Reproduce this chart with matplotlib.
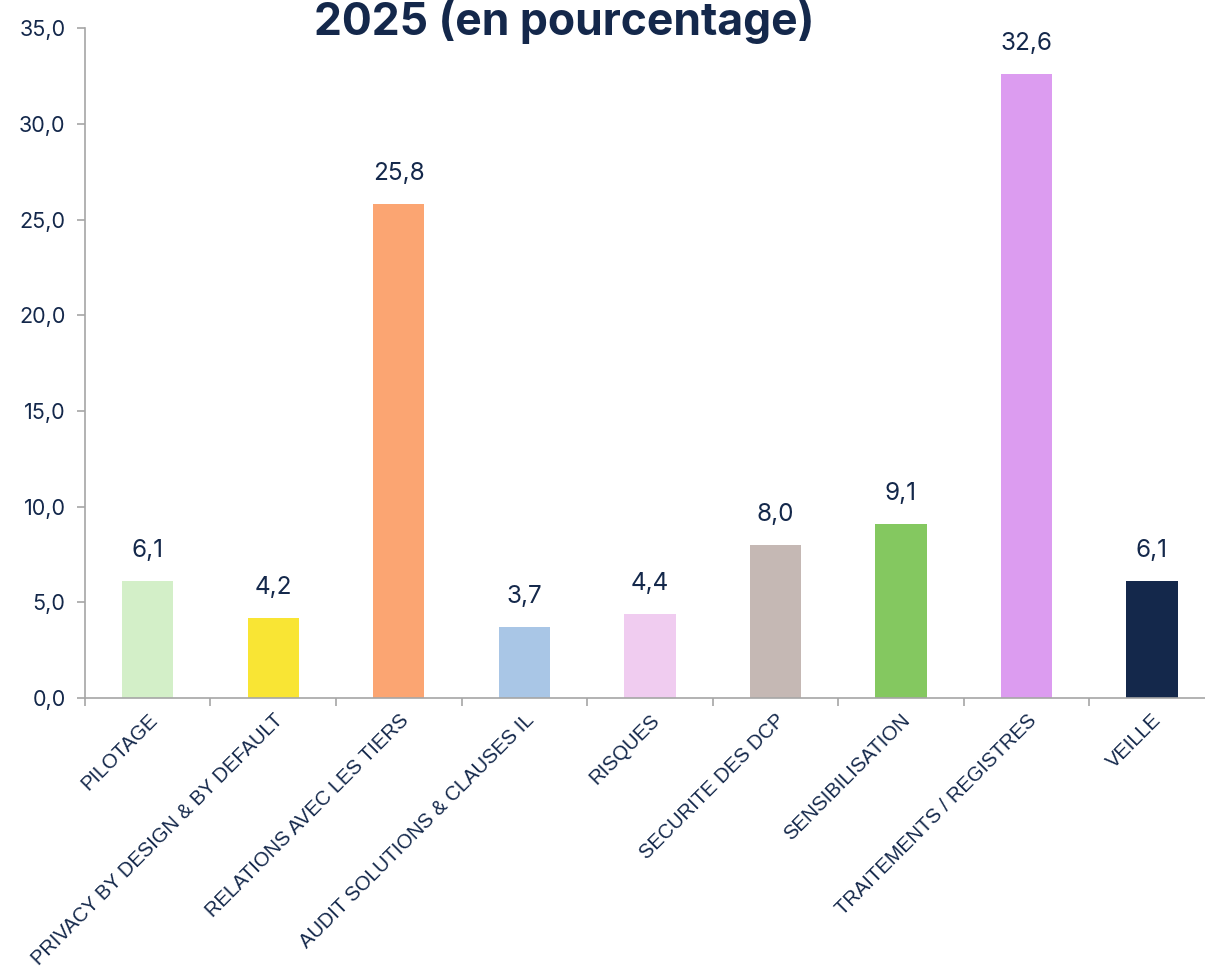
import numpy as np
import matplotlib
matplotlib.use("Agg")
import matplotlib.pyplot as plt
from matplotlib.ticker import FixedLocator, FuncFormatter

categories = ["PILOTAGE", "PRIVACY BY DESIGN & BY DEFAULT", "RELATIONS AVEC LES TIERS",
              "AUDIT SOLUTIONS & CLAUSES IL", "RISQUES", "SECURITE DES DCP",
              "SENSIBILISATION", "TRAITEMENTS / REGISTRES", "VEILLE"]
values = [6.1, 4.2, 25.8, 3.7, 4.4, 8.0, 9.1, 32.6, 6.1]
colors = ["#D3EFC8", "#F9E534", "#FBA572", "#A9C6E6", "#F0CCF0",
          "#C5B8B4", "#84C860", "#DC9CF0", "#14284B"]
title = "2025 (en pourcentage)"

navy = "#14284B"
grey = "#A6A6A6"

fig = plt.figure(figsize=(12.05, 9.67), dpi=100)
ax = fig.add_axes([0.0705, 0.278, 0.9375, 0.693])
ax.set_clip_on(False)

x = np.arange(len(categories))
ax.bar(x, values, width=0.41, color=colors, zorder=2)

for xi, v in zip(x, values):
    ax.text(xi, v + 1.0, f"{v:.1f}".replace(".", ","), ha="center", va="bottom",
            fontsize=17.5, color=navy, family="Inter")

ax.set_xlim(-0.5, len(categories) - 0.5)
ax.set_ylim(0, 35)
ax.set_yticks(np.arange(0, 35.1, 5))
ax.yaxis.set_major_formatter(FuncFormatter(lambda v, p: f"{v:.1f}".replace(".", ",")))
ax.tick_params(axis="y", colors=grey, labelcolor=navy, labelsize=15.5, length=6, width=1.2, pad=8)
for lab in ax.get_yticklabels():
    lab.set_family("Inter")

ax.set_xticks(x)
ax.set_xticklabels(categories, rotation=45, ha="right", rotation_mode="anchor",
                   fontsize=14.5, color=navy, family="Liberation Sans")
ax.tick_params(axis="x", which="major", length=0, pad=9)
ax.xaxis.set_minor_locator(FixedLocator(np.arange(-0.5, len(categories), 1)))
ax.tick_params(axis="x", which="minor", length=6, width=1.2, color=grey)

for s in ["top", "right"]:
    ax.spines[s].set_visible(False)
for s in ["left", "bottom"]:
    ax.spines[s].set_color(grey)
    ax.spines[s].set_linewidth(1.2)

fig.text(0.468, 0.964, title, ha="center", va="baseline", fontsize=32,
         fontweight="bold", color=navy, family="Inter")

fig.savefig("out.png", dpi=100)
